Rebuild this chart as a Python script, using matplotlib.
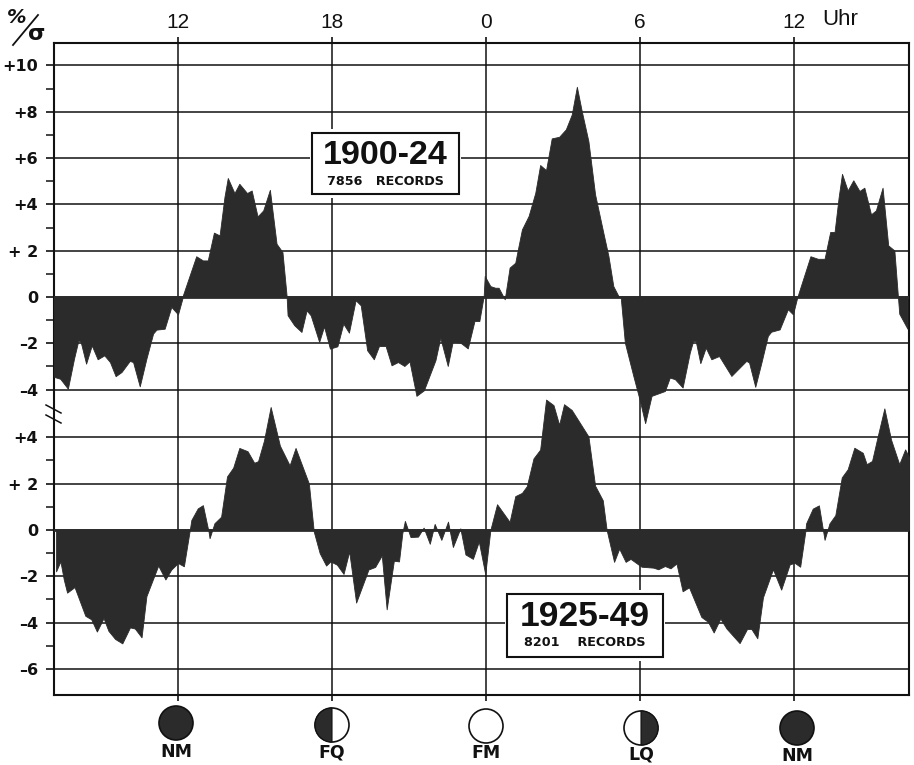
import matplotlib
matplotlib.use('Agg')
import numpy as np
import matplotlib.pyplot as plt
from matplotlib.patches import Circle, Wedge, Rectangle

# lunar time axis, hours run on past 24 so the curve stays continuous
upper_hours = [7.17, 7.41, 7.71, 7.95, 8.12, 8.21, 8.42, 8.64, 8.87, 9.13, 9.35, 9.57, 9.80, 10.12, 10.25,
               10.51, 10.77, 11.03, 11.16, 11.48, 11.74, 12.00, 12.17, 12.19, 12.71, 12.97, 13.16, 13.40,
               13.62, 13.81, 13.94, 14.20, 14.39, 14.69, 14.87, 15.10, 15.32, 15.58, 15.84, 16.07, 16.23,
               16.27, 16.53, 16.81, 17.01, 17.17, 17.50, 17.69, 17.92, 18.21, 18.44, 18.66, 18.92, 19.12,
               19.37, 19.63, 19.83, 20.09, 20.32, 20.57, 20.82, 21.02, 21.29, 21.58, 22.03, 22.22, 22.51,
               22.70, 23.00, 23.29, 23.55, 23.74, 23.91, 23.95, 24.17, 24.36, 24.49, 24.73, 24.92, 25.14,
               25.23, 25.40, 25.66, 25.92, 26.11, 26.34, 26.56, 26.85, 27.11, 27.34, 27.54, 27.73, 27.99,
               28.25, 28.57, 28.77, 28.96, 29.16, 29.25, 29.41, 29.74, 30.00, 30.20, 30.45, 30.97, 31.16,
               31.36, 31.66, 31.94, 32.07, 32.17, 32.35, 32.56, 32.78, 33.08, 33.56, 34.14, 34.25, 34.49,
               34.73, 34.98, 35.11, 35.44, 35.76, 35.96, 36.13, 36.64, 36.93, 37.19, 37.41, 37.58, 37.74,
               37.87, 38.09, 38.31, 38.55, 38.74, 39.00, 39.19, 39.45, 39.67, 39.91, 40.04, 40.10, 40.42]
upper_values = [-3.45, -3.53, -3.96, -2.66, -1.87, -1.94, -2.88, -2.09, -2.69, -2.52, -2.81, -3.42, -3.24, -2.76, -2.81,
                -3.86, -2.66, -1.58, -1.41, -1.37, -0.43, -0.75, -0.07, 0.07, 1.76, 1.58, 1.58, 2.78,
                2.66, 4.32, 5.14, 4.49, 4.89, 4.49, 4.60, 3.48, 3.74, 4.63, 2.30, 1.94, 0.07,
                -0.79, -1.22, -1.51, -0.58, -0.79, -1.94, -1.27, -2.23, -2.13, -1.15, -1.54, -0.14, -0.36,
                -2.30, -2.69, -2.12, -2.12, -2.95, -2.81, -2.98, -2.78, -4.27, -4.03, -2.73, -1.76, -2.98,
                -1.94, -1.97, -2.22, -1.04, -1.04, 0.04, 0.91, 0.47, 0.40, 0.40, -0.10, 1.27, 1.48,
                1.99, 2.92, 3.50, 4.50, 5.70, 5.48, 6.85, 6.92, 7.24, 7.88, 9.08, 8.03, 6.73,
                4.43, 2.78, 1.77, 0.47, 0.04, -0.03, -1.97, -3.41, -4.50, -5.45, -4.27, -4.06, -3.48,
                -3.55, -3.91, -2.40, -1.90, -1.90, -2.86, -2.19, -2.69, -2.55, -3.41, -2.76, -2.83, -3.88,
                -2.83, -1.68, -1.50, -1.40, -0.53, -0.75, 0.00, 1.76, 1.65, 1.65, 2.81, 2.81, 4.32,
                5.32, 4.60, 5.04, 4.58, 4.72, 3.57, 3.74, 4.72, 2.23, 2.01, 0.14, -0.72, -1.37]

lower_hours = [7.25, 7.42, 7.55, 7.68, 7.97, 8.39, 8.62, 8.84, 9.10, 9.29, 9.55, 9.83, 10.13, 10.32, 10.58,
               10.77, 11.23, 11.51, 11.74, 12.00, 12.23, 12.45, 12.52, 12.77, 12.97, 13.19, 13.23, 13.42,
               13.68, 13.91, 14.15, 14.39, 14.71, 14.97, 15.12, 15.35, 15.61, 15.97, 16.35, 16.58, 17.10,
               17.29, 17.52, 17.77, 17.94, 18.19, 18.45, 18.67, 18.94, 19.42, 19.68, 19.94, 20.13, 20.41,
               20.61, 20.74, 20.84, 21.06, 21.35, 21.57, 21.81, 22.00, 22.26, 22.52, 22.71, 23.00, 23.20,
               23.49, 23.72, 23.97, 24.17, 24.43, 24.92, 25.14, 25.40, 25.59, 25.85, 26.11, 26.34, 26.63,
               26.85, 27.04, 27.34, 27.99, 28.25, 28.55, 28.70, 28.99, 29.19, 29.44, 29.63, 30.06, 30.52,
               30.71, 30.97, 31.19, 31.42, 31.66, 31.91, 32.39, 32.65, 32.87, 33.13, 33.37, 33.88, 34.17,
               34.34, 34.57, 34.79, 35.18, 35.50, 35.83, 36.02, 36.24, 36.44, 36.47, 36.73, 36.97, 37.19,
               37.38, 37.61, 37.86, 38.09, 38.35, 38.68, 38.83, 39.04, 39.26, 39.52, 39.78, 40.10, 40.33, 40.49]
lower_values = [-1.79, -1.36, -2.14, -2.71, -2.47, -3.71, -3.86, -4.39, -3.81, -4.36, -4.71, -4.90, -4.21, -4.26, -4.64,
                -2.86, -1.54, -2.14, -1.71, -1.43, -1.57, -0.07, 0.43, 0.93, 1.07, -0.07, -0.36, 0.29,
                0.57, 2.31, 2.69, 3.54, 3.40, 2.90, 2.97, 3.86, 5.31, 3.64, 2.79, 3.54, 2.00,
                -0.07, -1.00, -1.54, -1.36, -1.50, -1.90, -0.93, -3.14, -1.71, -1.60, -1.10, -3.43, -1.33,
                -1.36, -0.14, 0.39, -0.31, -0.29, 0.10, -0.60, 0.26, -0.43, 0.36, -0.74, 0.07, -1.06,
                -1.25, -0.50, -1.91, 0.00, 1.11, 0.35, 1.46, 1.60, 1.89, 3.09, 3.47, 5.63, 5.39,
                4.54, 5.43, 5.18, 4.04, 1.91, 1.28, 0.00, -1.38, -0.81, -1.38, -1.25, -1.59, -1.63,
                -1.70, -1.56, -1.66, -1.45, -2.65, -2.48, -3.76, -3.97, -4.43, -3.83, -4.26, -4.89, -4.28,
                -4.28, -4.68, -2.91, -1.70, -2.58, -1.49, -1.42, -1.59, -0.07, 0.28, 0.92, 1.06, -0.43,
                0.28, 0.64, 2.27, 2.62, 3.55, 3.33, 2.84, 2.98, 4.04, 5.25, 3.90, 2.84, 3.48, 3.12]

hour_ticks = [12, 18, 24, 30, 36]
hour_labels = ['12', '18', '0', '6', '12']
upper_ticks = [10, 8, 6, 4, 2, 0, -2, -4]
lower_ticks = [4, 2, 0, -2, -4, -6]
upper_minor = [9, 7, 5, 3, 1, -1, -3]
lower_minor = [3, 1, -1, -3, -5]
lower_offset = -10.06  # second block sits below the first on the same axis

DARK = '#2b2b2b'
INK = '#111111'
SANS = 'Liberation Sans'


def signed(v):
    if v == 0:
        return '0'
    if v == 2:
        return '+ 2'
    if v > 0:
        return f'+{v}'
    return f'\u2013{-v}'


W, H = 914, 765
fig = plt.figure(figsize=(W / 100, H / 100), dpi=100, facecolor='white')
ax = fig.add_axes([53.5 / W, 1 - 695 / H, (909 - 53.5) / W, (695 - 43) / H])
ax.set_xlim(7.15, 40.48)
ax.set_ylim(-17.19, 10.97)

major = upper_ticks + [v + lower_offset for v in lower_ticks]
minor = upper_minor + [v + lower_offset for v in lower_minor]
ax.set_yticks(major)
ax.set_yticklabels([signed(v) for v in upper_ticks] + [signed(v) for v in lower_ticks],
                   fontweight='bold', fontsize=11.5, color=INK)
ax.set_yticks(minor, minor=True)
ax.tick_params(axis='y', which='major', length=6, width=1.2, pad=5, color=INK)
ax.tick_params(axis='y', which='minor', length=6, width=1.1, color=INK)

ax.xaxis.tick_top()
ax.set_xticks(hour_ticks)
ax.set_xticklabels(hour_labels, family=SANS, fontsize=15, color=INK)
ax.tick_params(axis='x', which='major', length=4, width=1.2, pad=4, color=INK, bottom=True, top=True)

ax.grid(True, which='major', color=INK, linewidth=1.1, zorder=1)
ax.set_axisbelow(True)
for s in ax.spines.values():
    s.set_linewidth(1.5)
    s.set_color(INK)

u_x, u_y = np.array(upper_hours), np.array(upper_values)
l_x, l_y = np.array(lower_hours), np.array(lower_values)
ax.fill_between(u_x, 0, u_y, color=DARK, linewidth=0.6, zorder=3)
ax.fill_between(l_x, lower_offset, l_y + lower_offset, color=DARK, linewidth=0.6, zorder=3)
ax.axhline(0, color=DARK, linewidth=2, zorder=3)
ax.axhline(lower_offset, color=DARK, linewidth=2, zorder=3)

# overlay in picture pixels for the boxes, moons and small marks
ov = fig.add_axes([0, 0, 1, 1])
ov.set_xlim(0, W)
ov.set_ylim(H, 0)
ov.axis('off')
ov.patch.set_alpha(0)

ov.text(822, 19, 'Uhr', family=SANS, fontsize=16, color=INK, ha='left', va='center')
ov.text(17, 17, '%', fontsize=14, fontweight='bold', style='italic', color=INK, ha='center', va='center')
ov.text(37, 34, '\u03c3', fontsize=16, fontweight='bold', color=INK, ha='center', va='center')
ov.plot([13, 38], [45, 15], color=INK, linewidth=1.3)

# axis break
ov.plot([46, 61], [405, 413], color=INK, linewidth=1.1)
ov.plot([46, 61], [415, 423], color=INK, linewidth=1.1)

# record boxes
for (x0, y0, x1, y1, big, small, size, by, sy) in [
    (312, 133, 459, 194, '1900-24', '7856   RECORDS', 24.5, 155, 181),
    (507, 594, 663, 657, '1925-49', '8201    RECORDS', 25.5, 617, 643),
]:
    ov.add_patch(Rectangle((x0 - 2, y0 - 4), x1 - x0 + 4, y1 - y0 + 8, facecolor='white', edgecolor='none', zorder=4))
    ov.add_patch(Rectangle((x0, y0), x1 - x0, y1 - y0, facecolor='white', edgecolor=INK, linewidth=1.5, zorder=5))
    ov.text((x0 + x1) / 2, by, big, family=SANS, fontweight='bold', fontsize=size, color=INK,
            ha='center', va='center', zorder=6)
    ov.text((x0 + x1) / 2, sy, small, fontweight='bold', fontsize=9.2, color=INK,
            ha='center', va='center', zorder=6)

# moon phases
R = 17
moons = [(176, 723, 'NM', 752, 'new'), (332, 725, 'FQ', 752, 'first'), (486, 726, 'FM', 753, 'full'),
         (641, 728, 'LQ', 755, 'last'), (797, 728, 'NM', 756, 'new')]
for mx, my, name, ly, kind in moons:
    ov.add_patch(Circle((mx, my), R, facecolor='white' if kind != 'new' else DARK, edgecolor=INK, linewidth=1.2))
    if kind == 'first':
        ov.add_patch(Wedge((mx, my), R, 90, 270, facecolor=DARK, edgecolor=INK, linewidth=0.8))
    if kind == 'last':
        ov.add_patch(Wedge((mx, my), R, 270, 90, facecolor=DARK, edgecolor=INK, linewidth=0.8))
    ov.text(mx, ly, name, fontweight='bold', fontsize=12.5, color=INK, ha='center', va='center')
ov.set_aspect('equal')

fig.savefig('out.png', dpi=100)
